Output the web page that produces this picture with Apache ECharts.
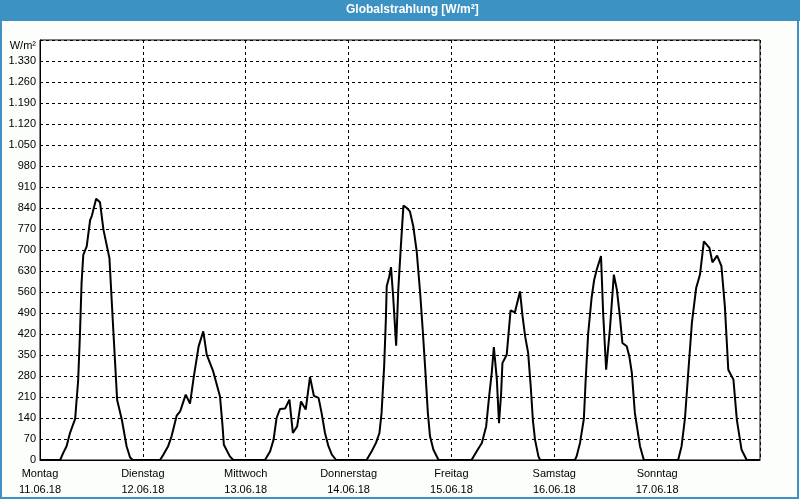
<!DOCTYPE html>
<html>
<head>
<meta charset="utf-8">
<script src="https://cdn.jsdelivr.net/npm/echarts@6/dist/echarts.min.js"></script>
<style>
html,body{margin:0;padding:0;background:#fcfefc;}
#chart{width:800px;height:500px;}
</style>
</head>
<body>
<div id="chart"></div>
<script>
// Hours since Monday 00:00
const hours = [
  0,4.7,5.4,6.2,7.0,8.2,8.9,9.3,9.7,10.1,10.9,11.7,12.1,13.1,14.0,14.8,16.2,17.1,18.0,19.1,20.2,21.0,21.6,
  28.0,28.8,29.9,30.7,31.9,32.7,34.0,35.0,35.9,37.0,38.1,38.9,40.4,42.0,42.6,42.9,44.3,45.1,
  52.5,53.7,54.5,55.2,56.0,57.2,58.2,59.0,60.0,60.9,62.0,63.0,63.9,65.0,65.7,66.5,67.3,68.1,69.1,
  76.2,77.4,78.4,79.2,79.7,80.3,80.7,80.9,81.5,81.9,82.4,83.1,83.6,84.2,84.8,85.6,86.3,87.1,87.9,88.7,89.3,89.9,90.5,91.0,91.8,93.0,
  100.7,101.9,103.1,104.1,104.8,105.4,105.9,106.6,107.1,107.6,107.9,108.9,109.8,110.8,112.0,112.6,113.2,113.9,114.5,115.0,115.5,116.3,116.7,
  124.8,125.2,126.0,126.9,127.3,127.9,128.7,129.3,129.9,130.9,131.4,132.1,133.0,133.9,134.6,135.3,135.9,136.9,137.5,138.1,138.8,140.0,140.9,
  148.9,149.7,150.5,151.3,152.1,153.1,154.0,154.9,156.2,156.9,158.0,159.0,159.8,160.6,161.8,162.6,163.7,164.9,168
];
// Global radiation W/m²
const radiation = [
  0,0,23,46,90,137,265,410,590,684,712,800,814,871,859,768,673,434,200,134,46,9,0,
  0,18,46,79,148,162,218,188,279,378,429,351,296,212,112,51,12,0,
  0,29,68,140,170,172,201,90,112,195,168,277,214,207,157,90,46,18,0,
  0,29,57,90,157,312,468,579,612,643,546,381,568,712,848,840,829,779,695,557,434,301,157,79,34,0,
  0,29,57,112,212,290,376,268,123,223,323,351,499,492,562,479,412,357,246,134,68,12,0,
  0,12,57,137,260,420,540,600,634,680,490,301,440,618,568,479,390,379,346,290,157,46,0,
  0,46,140,300,456,573,618,729,707,659,681,646,512,301,268,134,34,0,0
];
const dayNames = ['Montag','Dienstag','Mittwoch','Donnerstag','Freitag','Samstag','Sonntag'];
const dayDates = ['11.06.18','12.06.18','13.06.18','14.06.18','15.06.18','16.06.18','17.06.18'];
const yTicks = [0,70,140,210,280,350,420,490,560,630,700,770,840,910,980,1050,1120,1190,1260,1330,1400];

const seriesData = hours.map((h,i)=>[h, radiation[i]]);
const fmtNum = v => v >= 1000 ? Math.floor(v/1000) + '.' + String(v % 1000).padStart(3,'0') : String(v);
const FONT = 'Liberation Sans';

const chart = echarts.init(document.getElementById('chart'), null, {renderer:'canvas'});
chart.setOption({
  backgroundColor: '#fcfefc',
  animation: false,
  graphic: [
    {type:'rect', shape:{x:0,y:0,width:800,height:21}, style:{fill:'#3d92c4'}, z:10},
    {type:'rect', shape:{x:1,y:1,width:797,height:497}, style:{fill:'none', stroke:'#3d92c4', lineWidth:2}, z:10},
    {type:'text', left:346, top:4, style:{text:'Globalstrahlung [W/m²]', fill:'#ffffff', font:'bold 12px "Liberation Sans"'}, z:11}
  ],
  grid: {left:40, right:40, top:40, bottom:40, show:true, borderColor:'#000', borderWidth:1, backgroundColor:'#ffffff'},
  xAxis: {
    type:'value', min:0, max:168, interval:24,
    axisLine:{show:true, lineStyle:{color:'#000', width:1}},
    axisTick:{show:false},
    splitLine:{show:true, lineStyle:{color:'#000', width:1, type:[3,3]}},
    axisLabel:{
      show:true, showMinLabel:true, showMaxLabel:true, margin:6,
      color:'#000', fontFamily:FONT, fontSize:11, lineHeight:16,
      formatter: v => { const i = Math.round(v/24); return i < 7 ? dayNames[i] + '\n' + dayDates[i] : ''; }
    }
  },
  yAxis: {
    type:'value', min:0, max:1400, interval:70,
    axisLine:{show:true, lineStyle:{color:'#000', width:1}},
    axisTick:{show:false},
    splitLine:{show:true, lineStyle:{color:'#000', width:1, type:[3,3]}},
    axisLabel:{
      show:true, showMinLabel:true, showMaxLabel:true, margin:4,
      color:'#000', fontFamily:FONT, fontSize:11,
      formatter: v => v === 1400 ? '{u|W/m²}' : fmtNum(v),
      rich:{u:{fontFamily:FONT, fontSize:11, color:'#000', padding:[12,0,0,0]}}
    }
  },
  series: [{
    type:'line', data:seriesData, showSymbol:false, symbol:'none', smooth:false,
    lineStyle:{color:'#000', width:2}, z:5
  }]
});
</script>
</body>
</html>
